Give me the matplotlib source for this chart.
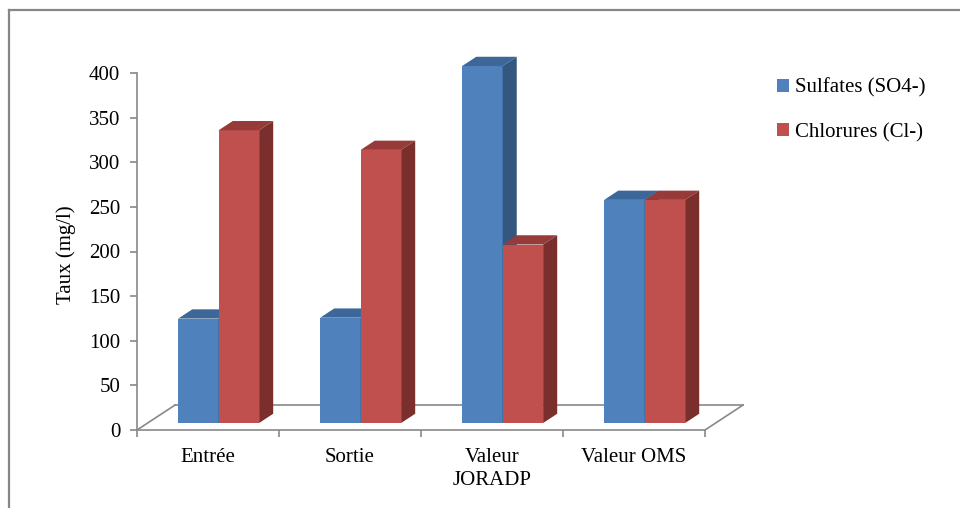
import matplotlib.pyplot as plt
from matplotlib.patches import Polygon, Patch
from matplotlib.lines import Line2D

# Taux mesurés (mg/l)
categories = ['Entrée', 'Sortie', 'Valeur\nJORADP', 'Valeur OMS']
sulfates = [117, 118, 400, 250]
chlorures = [328, 306, 200, 250]
series_names = ['Sulfates (SO4-)', 'Chlorures (Cl-)']
y_ticks = [0, 50, 100, 150, 200, 250, 300, 350, 400]

plt.rcParams['font.family'] = ['Liberation Serif', 'DejaVu Serif']
plt.rcParams['font.size'] = 15

GRIS = '#898989'
BLEU = ('#4F81BD', '#3D6798', '#33577F')   # face, dessus, côté
ROUGE = ('#C0504D', '#963B39', '#7B2F2D')

# profondeur du plancher (pseudo 3D) en unités de données
SOL_DX, SOL_DY = 0.268, 28.0
# position et profondeur des barres dans le plancher
POS = 0.28
PROF = 0.37
LARG = 0.285

fig = plt.figure(figsize=(9.6, 5.08), dpi=100)
ax = fig.add_axes([137 / 960, 78 / 508, 568 / 960, 357 / 508])
ax.set_xlim(-0.5, 3.5)
ax.set_ylim(0, 400)

# plancher
for xs, ys in [([-0.5, -0.5 + SOL_DX], [0, SOL_DY]),
               ([-0.5 + SOL_DX, 3.5 + SOL_DX], [SOL_DY, SOL_DY]),
               ([3.5, 3.5 + SOL_DX], [0, SOL_DY])]:
    ax.plot(xs, ys, color=GRIS, lw=1.2, clip_on=False, zorder=1)


def barre(x0, h, couleurs):
    """Colonne 3D : face avant, dessus et côté droit."""
    ox, oy = POS * SOL_DX, POS * SOL_DY
    dx, dy = PROF * SOL_DX, PROF * SOL_DY
    xa, xb = x0 + ox, x0 + ox + LARG
    y0, y1 = oy, oy + h
    ax.add_patch(Polygon([(xa, y0), (xb, y0), (xb, y1), (xa, y1)],
                         closed=True, fc=couleurs[0], ec='none', clip_on=False, zorder=2))
    ax.add_patch(Polygon([(xa, y1), (xb, y1), (xb + dx, y1 + dy), (xa + dx, y1 + dy)],
                         closed=True, fc=couleurs[1], ec='none', clip_on=False, zorder=2))
    ax.add_patch(Polygon([(xb, y0), (xb + dx, y0 + dy), (xb + dx, y1 + dy), (xb, y1)],
                         closed=True, fc=couleurs[2], ec='none', clip_on=False, zorder=2))


for i in range(len(categories)):
    barre(i - LARG, sulfates[i], BLEU)
    barre(i, chlorures[i], ROUGE)

# axes
for nom in ['top', 'right']:
    ax.spines[nom].set_visible(False)
for nom in ['left', 'bottom']:
    ax.spines[nom].set_color(GRIS)
    ax.spines[nom].set_linewidth(1.2)
    ax.spines[nom].set_zorder(1)

ax.set_yticks(y_ticks)
ax.tick_params(axis='y', direction='out', length=5, width=1.2, color=GRIS, pad=7)
ax.set_xticks([-0.5, 0.5, 1.5, 2.5, 3.5])
ax.set_xticklabels([])
ax.tick_params(axis='x', which='major', direction='out', length=5, width=1.2, color=GRIS)
ax.set_xticks(range(len(categories)), minor=True)
ax.set_xticklabels(categories, minor=True, linespacing=1.3)
ax.tick_params(axis='x', which='minor', length=0, pad=13)

ax.set_ylabel('Taux (mg/l)')
ax.yaxis.set_label_coords(-0.107, 0.49)

# légende
poignees = [Patch(facecolor=BLEU[0]), Patch(facecolor=ROUGE[0])]
fig.legend(poignees, series_names, loc='upper left', bbox_to_anchor=(769 / 960, 1 - 70 / 508),
           frameon=False, handlelength=0.55, handleheight=0.55, handletextpad=0.3,
           labelspacing=1.2, borderaxespad=0)

# cadre du graphique
fig.add_artist(Line2D([9 / 960, 9 / 960], [0, 1 - 10 / 508], transform=fig.transFigure,
                      color='#878787', lw=1.6))
fig.add_artist(Line2D([9 / 960, 1], [1 - 10 / 508, 1 - 10 / 508], transform=fig.transFigure,
                      color='#878787', lw=1.6))

fig.savefig('out.png', dpi=100)
